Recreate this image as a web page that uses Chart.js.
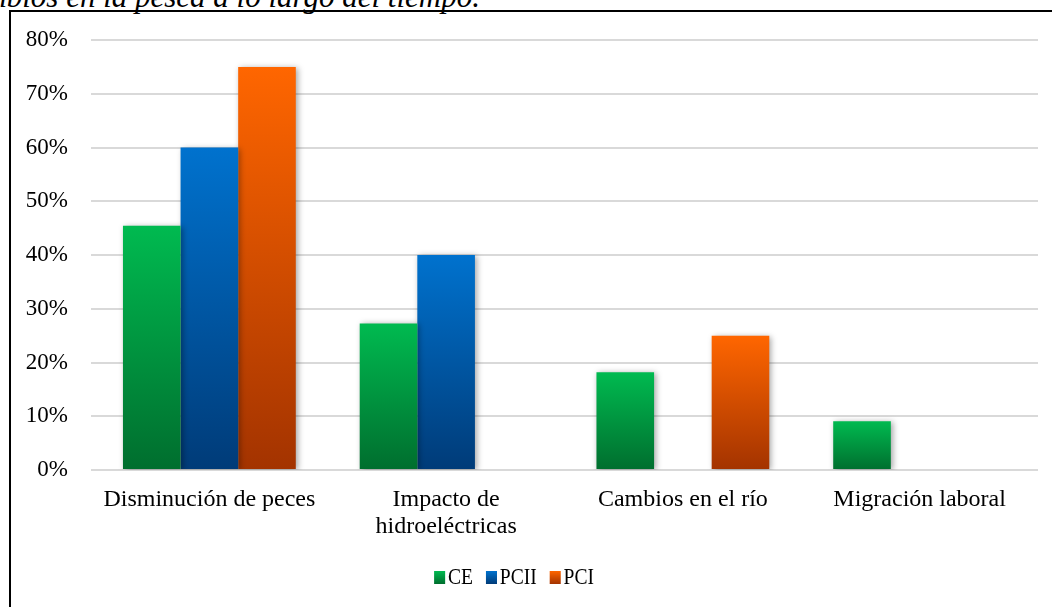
<!DOCTYPE html>
<html>
<head>
<meta charset="utf-8">
<script src="https://cdn.jsdelivr.net/npm/chart.js@4.4.1/dist/chart.umd.min.js"></script>
<style>
  html, body { margin: 0; padding: 0; background: #fff; overflow: hidden; }
  #wrap { position: relative; width: 1052px; height: 607px; overflow: hidden; }
  #title { position: absolute; right: 572px; top: -19px; font-family: "Liberation Serif", "Times New Roman", serif; font-style: italic; font-size: 31px; line-height: 31px; white-space: nowrap; color: #000; }
  #frame { position: absolute; left: 9px; top: 10px; width: 1100px; height: 700px; border-left: 2px solid #000; border-top: 2px solid #000; }
  #c { position: absolute; left: 0; top: 0; }
  #legend { position: absolute; top: 564px; left: 0; width: 1028px; display: flex; justify-content: center; font-family: "Liberation Serif", "Times New Roman", serif; font-size: 23px; color: #000; transform: scaleX(0.85); transform-origin: 514px 0; }
  .item { display: flex; align-items: center; margin: 0 7.5px; }
  .box { width: 13px; height: 13px; margin-right: 3.5px; }
</style>
</head>
<body>
<div id="wrap">
  <div id="title">Figura 5. Cambios en la pesca a lo largo del tiempo.</div>
  <div id="frame"></div>
  <canvas id="c" width="1052" height="607"></canvas>
  <div id="legend"></div>
</div>
<script>
const categories = [["Disminución de peces"], ["Impacto de", "hidroeléctricas"], ["Cambios en el río"], ["Migración laboral"]];
const seriesNames = ["CE", "PCII", "PCI"];
const ceValues = [45.45, 27.27, 18.18, 9.09];
const pciiValues = [60, 40, 0, 0];
const pciValues = [75, 0, 25, 0];
const yTicks = [0, 10, 20, 30, 40, 50, 60, 70, 80];
const gradTop = ["#00BA50", "#0072CE", "#FF6600"];
const gradBottom = ["#006E2E", "#003B78", "#A33300"];

function barGradient(ctx, idx) {
  const chart = ctx.chart;
  if (!chart.chartArea || !chart.scales.y) return gradTop[idx];
  const v = ctx.raw || 0;
  const y = chart.scales.y;
  const top = y.getPixelForValue(v);
  const base = y.getPixelForValue(0);
  if (!(base > top)) return gradTop[idx];
  const g = chart.ctx.createLinearGradient(0, top, 0, base);
  g.addColorStop(0, gradTop[idx]);
  g.addColorStop(1, gradBottom[idx]);
  return g;
}

const shadowPlugin = {
  id: 'barShadow',
  beforeDatasetsDraw(chart) {
    const c = chart.ctx;
    c.save();
    c.shadowColor = 'rgba(0,0,0,0.35)';
    c.shadowBlur = 6;
    c.shadowOffsetX = 2;
    c.shadowOffsetY = 1;
  },
  afterDatasetsDraw(chart) {
    chart.ctx.restore();
  }
};

const seriesData = [ceValues, pciiValues, pciValues];

new Chart(document.getElementById('c'), {
  type: 'bar',
  data: {
    labels: categories,
    datasets: seriesNames.map((name, i) => ({
      label: name,
      data: seriesData[i],
      backgroundColor: (ctx) => barGradient(ctx, i),
      borderWidth: 0,
      categoryPercentage: 0.73,
      barPercentage: 1.0
    }))
  },
  options: {
    responsive: false,
    animation: false,
    devicePixelRatio: 1,
    layout: { padding: { left: 0, right: 14, top: 40, bottom: 57 } },
    plugins: { legend: { display: false }, tooltip: { enabled: false } },
    scales: {
      x: {
        grid: { display: false, drawTicks: false },
        border: { display: false },
        ticks: {
          color: '#000',
          padding: 16,
          maxRotation: 0,
          autoSkip: false,
          font: { family: '"Liberation Serif", "Times New Roman", serif', size: 24, lineHeight: 1.12 }
        },
        afterFit: (s) => { s.height = 80; }
      },
      y: {
        min: 0,
        max: 80,
        afterBuildTicks: (s) => { s.ticks = yTicks.map(v => ({ value: v })); },
        grid: { color: '#d9d9d9', lineWidth: 2, drawTicks: false },
        border: { display: false },
        ticks: {
          color: '#000',
          padding: 23,
          callback: (v) => v + '%',
          font: { family: '"Liberation Serif", "Times New Roman", serif', size: 23 }
        },
        afterFit: (s) => { s.width = 91; }
      }
    }
  },
  plugins: [shadowPlugin]
});

const legend = document.getElementById('legend');
seriesNames.forEach((name, i) => {
  const item = document.createElement('div');
  item.className = 'item';
  const box = document.createElement('span');
  box.className = 'box';
  box.style.background = 'linear-gradient(to bottom, ' + gradTop[i] + ', ' + gradBottom[i] + ')';
  const txt = document.createElement('span');
  txt.textContent = name;
  item.appendChild(box);
  item.appendChild(txt);
  legend.appendChild(item);
});
</script>
</body>
</html>
